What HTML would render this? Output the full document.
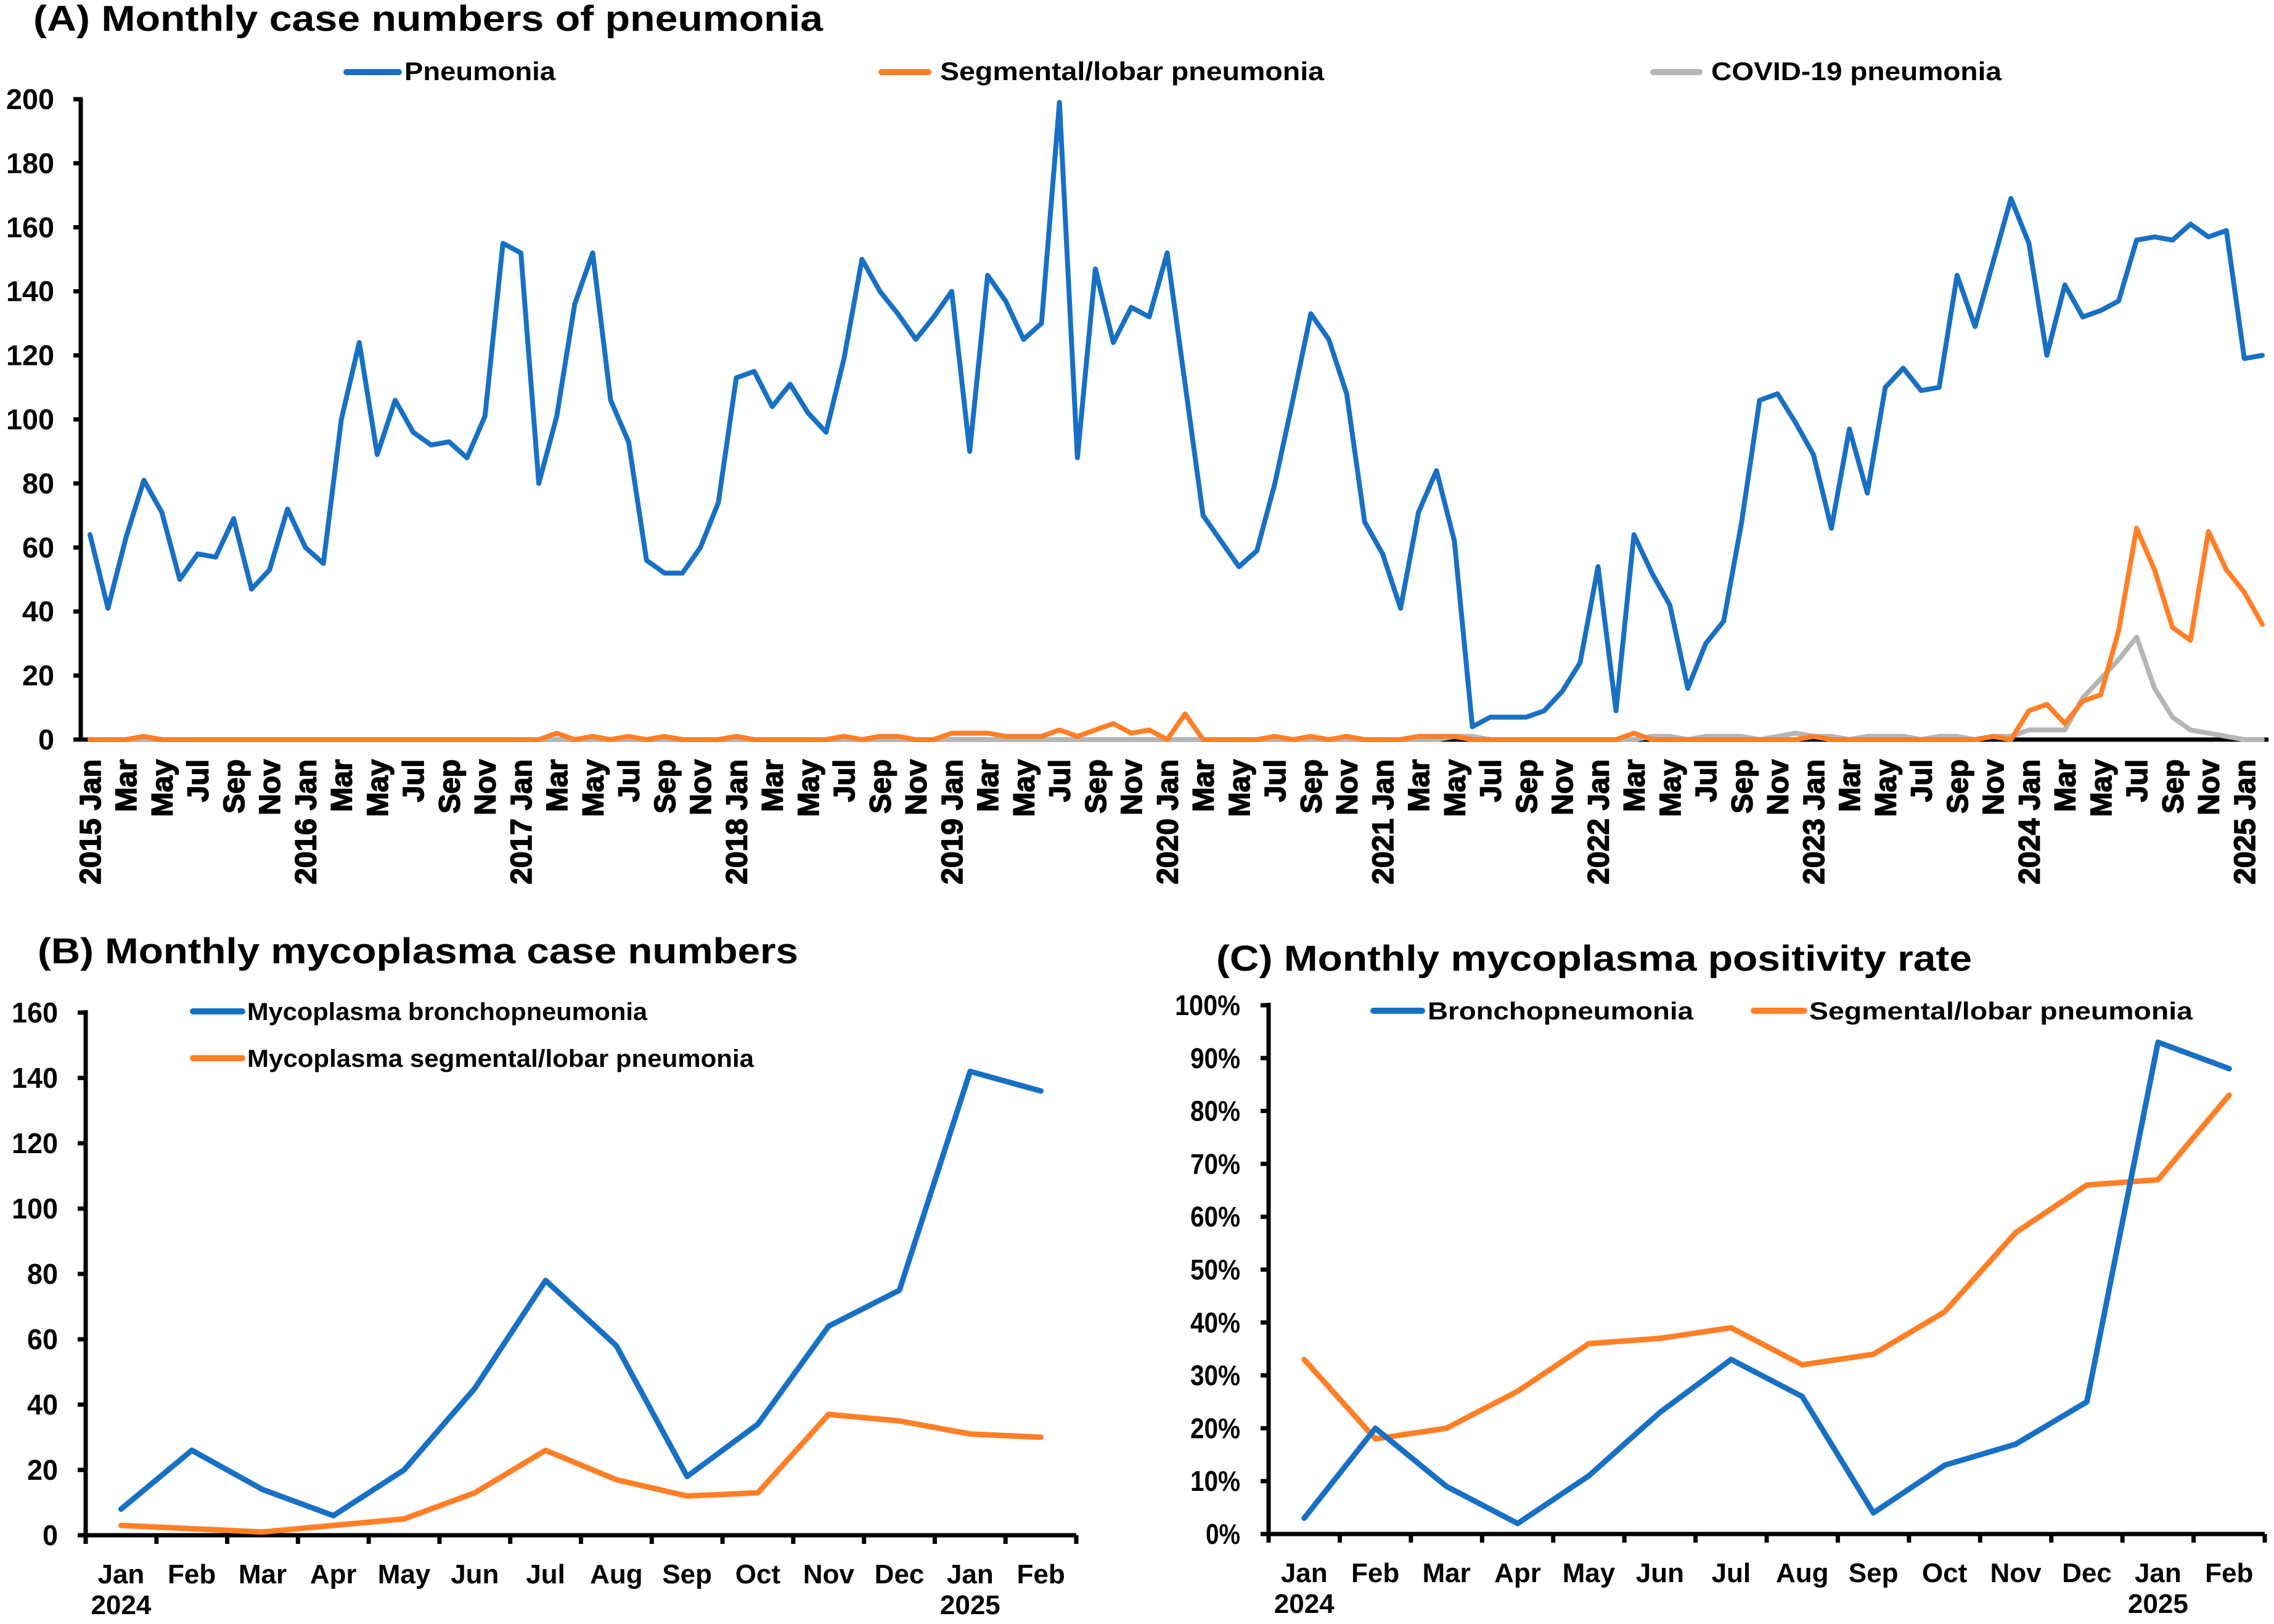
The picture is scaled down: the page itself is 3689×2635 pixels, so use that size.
<!DOCTYPE html>
<html><head><meta charset="utf-8"><style>
html,body{margin:0;padding:0;background:#fff;}
svg{display:block;}
text{font-family:"Liberation Sans Narrow","Liberation Sans",Arial,sans-serif;font-weight:bold;fill:#000;}
.wide{font-family:"Liberation Sans",Arial,sans-serif;font-weight:900;stroke:#000;stroke-width:1.6;}
</style></head><body>
<svg id="fig" xmlns="http://www.w3.org/2000/svg" width="3689" height="2635" viewBox="0 0 3689 2635">
<text x="54" y="50" font-size="58" textLength="1281" lengthAdjust="spacingAndGlyphs">(A) Monthly case numbers  of pneumonia</text>
<text x="61" y="1563" font-size="58" textLength="1234" lengthAdjust="spacingAndGlyphs">(B) Monthly mycoplasma case numbers</text>
<text x="1973" y="1575" font-size="58" textLength="1226" lengthAdjust="spacingAndGlyphs">(C) Monthly mycoplasma positivity rate</text>
</svg>
<script>
// ---- Panel A data ----
const aPneumonia = [64,41,63,81,71,50,58,57,69,47,53,72,
60,55,100,124,89,106,96,92,93,88,101,155,
152,80,101,136,152,106,93,56,52,52,60,74,
113,115,104,111,102,96,119,150,140,133,125,132,
140,90,145,137,125,130,199,88,147,124,135,132,
152,111,70,62,54,59,80,106,133,125,108,68,
58,41,71,84,62,4,7,7,7,9,15,24,
54,9,64,52,42,16,30,37,68,106,108,99,
89,66,97,77,110,116,109,110,145,129,149,169,
155,120,142,132,134,137,156,157,156,161,157,159,
119,120];
const aSegmental = [0,0,0,1,0,0,0,0,0,0,0,0,
0,0,0,0,0,0,0,0,0,0,0,0,
0,0,2,0,1,0,1,0,1,0,0,0,
1,0,0,0,0,0,1,0,1,1,0,0,
2,2,2,1,1,1,3,1,3,5,2,3,
0,8,0,0,0,0,1,0,1,0,1,0,
0,0,1,1,1,0,0,0,0,0,0,0,
0,0,2,0,0,0,0,0,0,0,0,0,
1,0,0,0,0,0,0,0,0,0,1,0,
9,11,5,12,14,34,66,53,35,31,65,53,
46,36];
const aCovid = [0,0,0,0,0,0,0,0,0,0,0,0,
0,0,0,0,0,0,0,0,0,0,0,0,
0,0,0,0,0,0,0,0,0,0,0,0,
0,0,0,0,0,0,0,0,0,0,0,0,
0,0,0,0,0,0,0,0,0,0,0,0,
0,0,0,0,0,0,0,0,0,0,0,0,
0,0,0,0,1,1,0,0,0,0,0,0,
0,0,0,1,1,0,1,1,1,0,1,2,
1,1,0,1,1,1,0,1,1,0,1,1,
3,3,3,13,19,25,32,16,7,3,2,1,
0,0];
const aYTicks = [0,20,40,60,80,100,120,140,160,180,200];
const monthNames = ["Jan","Feb","Mar","Apr","May","Jun","Jul","Aug","Sep","Oct","Nov","Dec"];
const aStartYear = 2015;
const aLegend = ["Pneumonia","Segmental/lobar pneumonia","COVID-19 pneumonia"];
// ---- Panel B data ----
const bCategories = ["Jan","Feb","Mar","Apr","May","Jun","Jul","Aug","Sep","Oct","Nov","Dec","Jan","Feb"];
const bBroncho = [8,26,14,6,20,45,78,58,18,34,64,75,142,136];
const bSegmental = [3,2,1,3,5,13,26,17,12,13,37,35,31,30];
const bYTicks = [0,20,40,60,80,100,120,140,160];
// ---- Panel C data ----
const cCategories = ["Jan","Feb","Mar","Apr","May","Jun","Jul","Aug","Sep","Oct","Nov","Dec","Jan","Feb"];
const cBroncho = [3,20,9,2,11,23,33,26,4,13,17,25,93,88];
const cSegmental = [33,18,20,27,36,37,39,32,34,42,57,66,67,83];
const cYTicks = [0,10,20,30,40,50,60,70,80,90,100];

const BLUE="#1870C5", ORANGE="#FF7F27", GRAY="#B5B5B5";
const NS="http://www.w3.org/2000/svg";
const svg=document.getElementById('fig');
function mk(tag,attrs,parent){const e=document.createElementNS(NS,tag);for(const k in attrs)e.setAttribute(k,attrs[k]);(parent||svg).appendChild(e);return e;}

// ===== Panel A =====
const gA=mk('g',{});


const aX0=146, aDx=(3670-146)/121, aY0=1200, aY1=161, aMax=200;
const axA=i=>aX0+i*aDx;
const ayA=v=>aY0-(v/aMax)*(aY0-aY1);
aYTicks.forEach(t=>{
  const tk=mk('line',{x1:119,x2:134,y1:ayA(t),y2:ayA(t),stroke:'#000','stroke-width':7},gA);
  
  
  const s=String(t);
  const lb=mk('text',{x:88,y:ayA(t)+16,'font-size':46,'text-anchor':'end',textLength:s.length*26,lengthAdjust:'spacingAndGlyphs'},gA);
  lb.textContent=s;
  
  
});
const axisA=mk('path',{d:`M131 ${aY1-2} V${aY0} H3680`,fill:'none',stroke:'#000','stroke-width':7},gA);


function lineA(vals,color){
  return mk('polyline',{points:vals.map((v,i)=>axA(i)+','+ayA(v)).join(' '),fill:'none',stroke:color,'stroke-width':8,'stroke-linejoin':'round','stroke-linecap':'round'},gA);
}
const lCov=lineA(aCovid,GRAY);


const lSeg=lineA(aSegmental,ORANGE);


const lPn=lineA(aPneumonia,BLUE);


for(let i=0;i<aPneumonia.length;i+=2){
  const m=monthNames[i%12];
  const yr=aStartYear+Math.floor(i/12);
  const label=(i%12===0)?(yr+'  '+m):m;
  const x=axA(i)+17;
  const t=mk('text',{x:x,y:1232,'font-size':48,'text-anchor':'end',class:'wide',transform:`rotate(-90 ${x} 1232)`},gA);
  t.setAttribute('xml:space','preserve');
  t.textContent=label;
  
  
}
const aLegendPos=[[562,647,656,245],[1430,1506,1525,623],[2682,2757,2776,471]];
const aColors=[BLUE,ORANGE,GRAY];
aLegend.forEach((s,k)=>{
  const [l1,l2,tx,tw]=aLegendPos[k];
  const ln=mk('line',{x1:l1,x2:l2,y1:117,y2:117,stroke:aColors[k],'stroke-width':10,'stroke-linecap':'round'},gA);
  
  
  const t=mk('text',{x:tx,y:130,'font-size':42,textLength:tw,lengthAdjust:'spacingAndGlyphs'},gA);
  t.textContent=s;
  
  
});

// ===== Panels B and C =====
function smallPanel(cfg){
  const g=mk('g',{});
  const x0=cfg.x0, x1=cfg.x1, y0=cfg.y0, y1=cfg.y1, n=cfg.cats.length, w=(x1-x0)/n;
  const cx=i=>x0+(i+0.5)*w;
  const cy=v=>y0-(v/cfg.max)*(y0-y1);
  cfg.ticks.forEach(t=>{
    const tk=mk('line',{x1:x0-13,x2:x0,y1:cy(t),y2:cy(t),stroke:'#000','stroke-width':7},g);
    
    
    const s=t+cfg.suffix;
    const lb=mk('text',{x:cfg.lx,y:cy(t)+16,'font-size':46,'text-anchor':'end',textLength:String(t).length*25+(cfg.suffix?31:0),lengthAdjust:'spacingAndGlyphs'},g);
    lb.textContent=s;
    
    
  });
  for(let i=0;i<=n;i++){
    const tk=mk('line',{x1:x0+i*w,x2:x0+i*w,y1:y0,y2:y0+14,stroke:'#000','stroke-width':7},g);
    
    
  }
  const ax=mk('path',{d:`M${x0} ${y1-4} V${y0} H${x1}`,fill:'none',stroke:'#000','stroke-width':7},g);
  
  
  cfg.cats.forEach((c,i)=>{
    const t=mk('text',{x:cx(i),y:y0+78,'font-size':44,'text-anchor':'middle'},g);
    t.textContent=c;
    
    
  });
  const y24=mk('text',{x:cx(0),y:y0+128,'font-size':44,'text-anchor':'middle'},g);
  y24.textContent='2024';
  
  
  const y25=mk('text',{x:cx(12),y:y0+128,'font-size':44,'text-anchor':'middle'},g);
  y25.textContent='2025';
  
  
  const pts=v=>v.map((d,i)=>cx(i)+','+cy(d)).join(' ');
  const lo=mk('polyline',{points:pts(cfg.seg),fill:'none',stroke:ORANGE,'stroke-width':9,'stroke-linejoin':'round','stroke-linecap':'round'},g);
  
  
  const lb=mk('polyline',{points:pts(cfg.bro),fill:'none',stroke:BLUE,'stroke-width':9,'stroke-linejoin':'round','stroke-linecap':'round'},g);
  
  
  cfg.legend.forEach(L=>{
    const ln=mk('line',{x1:L[0],x2:L[1],y1:L[2],y2:L[2],stroke:L[5],'stroke-width':10,'stroke-linecap':'round'},g);
    
    
    const t=mk('text',{x:L[3],y:L[2]+14,'font-size':40,textLength:L[4],lengthAdjust:'spacingAndGlyphs'},g);
    t.textContent=L[6];
    
    
  });
  return g;
}
const gB=smallPanel({x0:139,x1:1746,y0:2491,y1:1643,max:160,lx:94,suffix:'',cats:bCategories,bro:bBroncho,seg:bSegmental,ticks:bYTicks,
  legend:[[313,393,1641,401,649,BLUE,'Mycoplasma bronchopneumonia'],[313,393,1717,401,822,ORANGE,'Mycoplasma segmental/lobar pneumonia']]});


const gC=smallPanel({x0:2058,x1:3674,y0:2489,y1:1631,max:100,lx:2012,suffix:'%',cats:cCategories,bro:cBroncho,seg:cSegmental,ticks:cYTicks,
  legend:[[2228,2307,1640,2316,431,BLUE,'Bronchopneumonia'],[2845,2927,1640,2935,622,ORANGE,'Segmental/lobar pneumonia']]});


</script>
</body></html>
